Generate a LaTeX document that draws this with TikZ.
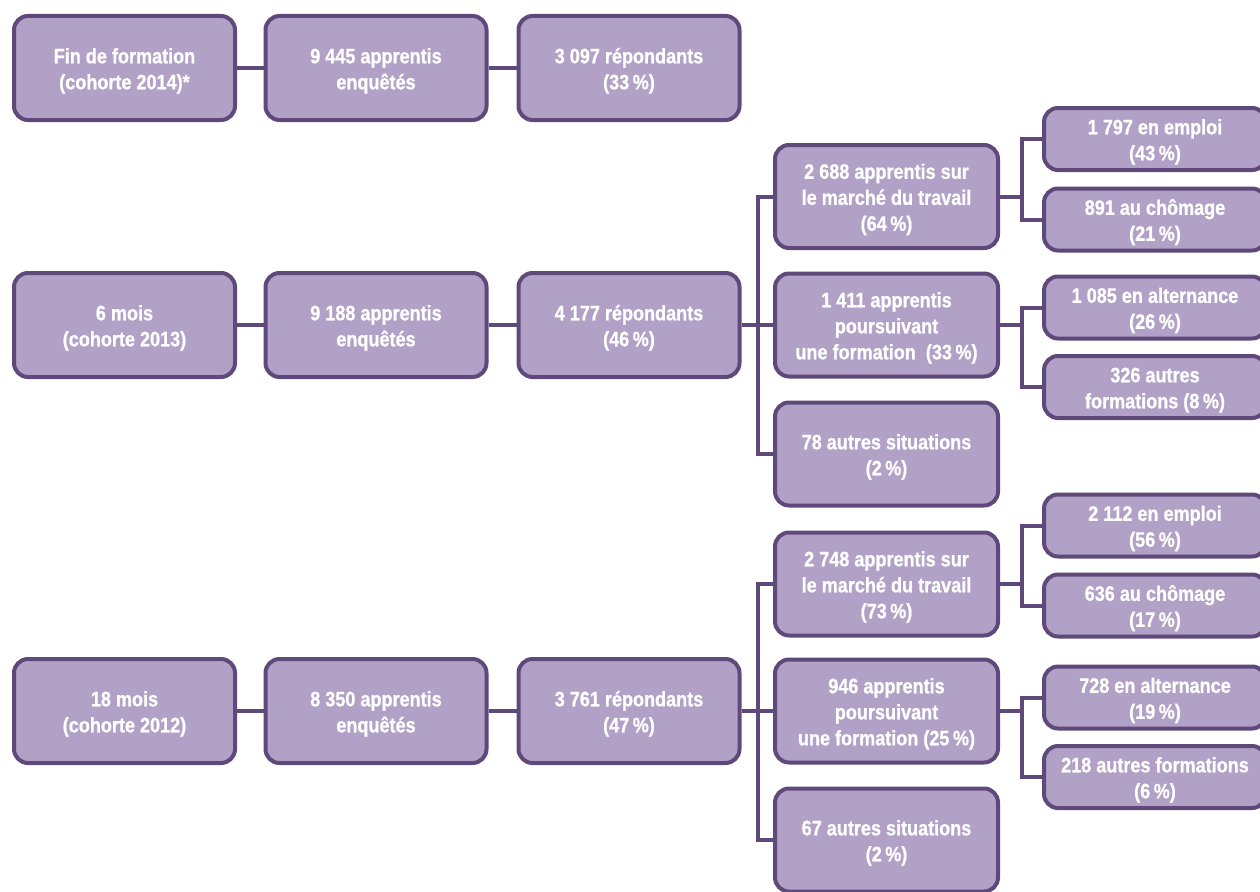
\documentclass[tikz,border=0pt]{standalone}
\usepackage{fontspec}
\setmainfont[FakeStretch=0.86,FakeBold=0.8]{Liberation Sans}
\definecolor{boxfill}{HTML}{B2A1C7}
\definecolor{boxline}{HTML}{5F497A}
\newcommand\firstln{\rule{0pt}{21pt}}
\begin{document}
\begin{tikzpicture}[x=1pt,y=-1pt,
  box/.style={draw=boxline, fill=boxfill, line width=4pt, rounded corners=14pt,
    text=white, align=center, inner sep=0pt,
    font=\fontsize{21}{26}\selectfont\bfseries},
  rowbox/.style={box, minimum width=221pt, minimum height=104pt},
  midbox/.style={box, minimum width=223pt, minimum height=103pt},
  subbox/.style={box, minimum width=222pt, minimum height=62pt},
  link/.style={draw=boxline, line width=4pt}]
\useasboundingbox (0,0) rectangle (1260,891);
% row 1
\node[rowbox] (a1) at (124.5,68) {\firstln Fin de formation\\(cohorte 2014)*};
\node[rowbox] (b1) at (376,68) {\firstln 9 445 apprentis\\enquêtés};
\node[rowbox] (c1) at (629,68) {\firstln 3 097 répondants\\(33\,\%)};
% row 2
\node[rowbox] (a2) at (124.5,325) {\firstln 6 mois\\(cohorte 2013)};
\node[rowbox] (b2) at (376,325) {\firstln 9 188 apprentis\\enquêtés};
\node[rowbox] (c2) at (629,325) {\firstln 4 177 répondants\\(46\,\%)};
% row 3
\node[rowbox] (a3) at (124.5,711) {\firstln 18 mois\\(cohorte 2012)};
\node[rowbox] (b3) at (376,711) {\firstln 8 350 apprentis\\enquêtés};
\node[rowbox] (c3) at (629,711) {\firstln 3 761 répondants\\(47\,\%)};
% middle column
\node[midbox] (m1) at (886.5,196.5) {\firstln 2 688 apprentis sur\\le marché du travail\\(64\,\%)};
\node[midbox] (m2) at (886.5,325) {\firstln 1 411 apprentis\\poursuivant\\une formation\ \ (33\,\%)};
\node[midbox] (m3) at (886.5,454) {\firstln 78 autres situations\\(2\,\%)};
\node[midbox] (m4) at (886.5,584) {\firstln 2 748 apprentis sur\\le marché du travail\\(73\,\%)};
\node[midbox] (m5) at (886.5,711) {\firstln 946 apprentis\\poursuivant\\une formation (25\,\%)};
\node[midbox] (m6) at (886.5,840) {\firstln 67 autres situations\\(2\,\%)};
% right column
\node[subbox] (r1) at (1155,139) {\firstln 1 797 en emploi\\(43\,\%)};
\node[subbox] (r2) at (1155,219.5) {\firstln 891 au chômage\\(21\,\%)};
\node[subbox] (r3) at (1155,307.5) {\firstln 1 085 en alternance\\(26\,\%)};
\node[subbox] (r4) at (1155,387) {\firstln 326 autres\\formations (8\,\%)};
\node[subbox] (r5) at (1155,525.5) {\firstln 2 112 en emploi\\(56\,\%)};
\node[subbox] (r6) at (1155,605.5) {\firstln 636 au chômage\\(17\,\%)};
\node[subbox] (r7) at (1155,697.5) {\firstln 728 en alternance\\(19\,\%)};
\node[subbox] (r8) at (1155,777) {\firstln 218 autres formations\\(6\,\%)};
% row connectors
\path[link] (a1) -- (b1) (b1) -- (c1);
\path[link] (a2) -- (b2) (b2) -- (c2);
\path[link] (a3) -- (b3) (b3) -- (c3);
% branch to middle column
\path[link] (c2.east) -- (m2.west);
\path[link] (m1.west) -- ++(-15.5,0) |- (m3.west);
\path[link] (c3.east) -- (m5.west);
\path[link] (m4.west) -- ++(-15.5,0) |- (m6.west);
% branch to right column
\path[link] (m1.east) -- ++(22,0);
\path[link] (r1.west) -- ++(-20,0) |- (r2.west);
\path[link] (m2.east) -- ++(22,0);
\path[link] (r3.west) -- ++(-20,0) |- (r4.west);
\path[link] (m4.east) -- ++(22,0);
\path[link] (r5.west) -- ++(-20,0) |- (r6.west);
\path[link] (m5.east) -- ++(22,0);
\path[link] (r7.west) -- ++(-20,0) |- (r8.west);
\end{tikzpicture}
\end{document}
